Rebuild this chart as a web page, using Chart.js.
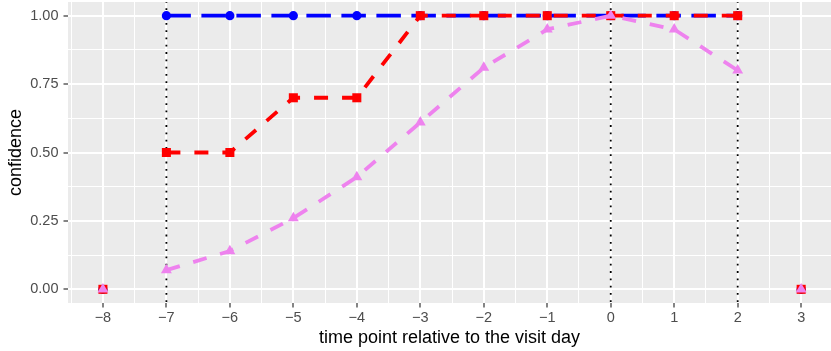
<!DOCTYPE html>
<html>
<head>
<meta charset="utf-8">
<script src="https://cdn.jsdelivr.net/npm/chart.js@4.4.1/dist/chart.umd.min.js"></script>
<style>
  html, body { margin: 0; padding: 0; background: #ffffff; }
  #wrap { width: 831px; height: 351px; }
</style>
</head>
<body>
<div id="wrap"><canvas id="c" width="831" height="351"></canvas></div>
<script>
// ---- data ----
const timePoints = [-7, -6, -5, -4, -3, -2, -1, 0, 1, 2];
const blueConfidence = [1, 1, 1, 1, 1, 1, 1, 1, 1, 1];
const redConfidence = [0.5, 0.5, 0.7, 0.7, 1, 1, 1, 1, 1, 1];
const violetConfidence = [0.07, 0.14, 0.26, 0.41, 0.61, 0.81, 0.95, 1.0, 0.95, 0.80];
const outsidePoints = [-8, 3];
const outsideConfidence = [0, 0];
const visitMarkers = [-7, 0, 2];
const xMajorTicks = [-8, -7, -6, -5, -4, -3, -2, -1, 0, 1, 2, 3];
const xMinorTicks = [-8.5, -7.5, -6.5, -5.5, -4.5, -3.5, -2.5, -1.5, -0.5, 0.5, 1.5, 2.5];
const yMajorTicks = [0, 0.25, 0.5, 0.75, 1];
const yMinorTicks = [0.125, 0.375, 0.625, 0.875];
const xTitle = 'time point relative to the visit day';
const yTitle = 'confidence';

const pts = (xs, ys) => xs.map((x, i) => ({ x: x, y: ys[i] }));

const panelBg = {
  id: 'panelBg',
  beforeDraw(chart) {
    const a = chart.chartArea, ctx = chart.ctx;
    ctx.save();
    ctx.fillStyle = '#EBEBEB';
    ctx.fillRect(a.left, a.top, a.right - a.left, a.bottom - a.top);
    ctx.restore();
  }
};

const isMajor = (v, list) => list.some(m => Math.abs(m - v) < 1e-9);
const noPad = s => { s.paddingTop = 0; s.paddingBottom = 0; s.paddingLeft = 0; s.paddingRight = 0; };

const datasets = [];
visitMarkers.forEach(v => {
  datasets.push({
    data: [{ x: v, y: -0.1 }, { x: v, y: 1.1 }],
    borderColor: '#000000', borderWidth: 1.8, borderDash: [1.8, 5.5],
    pointRadius: 0, order: 10, borderCapStyle: 'butt'
  });
});
datasets.push({
  data: pts(timePoints, blueConfidence),
  borderColor: '#0000FF', backgroundColor: '#0000FF',
  borderWidth: 3.8, borderDash: [24.5, 10.5], borderCapStyle: 'butt',
  pointStyle: 'circle', pointRadius: 4.6, pointBorderWidth: 0, order: 5
});
datasets.push({
  data: pts(timePoints, redConfidence),
  borderColor: '#FF0000', backgroundColor: '#FF0000',
  borderWidth: 3.8, borderDash: [14, 14], borderCapStyle: 'butt',
  pointStyle: 'rect', pointRadius: 6.4, pointBorderWidth: 0, order: 4
});
datasets.push({
  data: pts(timePoints, violetConfidence),
  borderColor: '#EE82EE', backgroundColor: '#EE82EE',
  borderWidth: 3.8, borderDash: [14, 14], borderCapStyle: 'butt',
  pointStyle: 'triangle', pointRadius: 6.3, pointBorderWidth: 0, order: 3
});
datasets.push({
  data: pts(outsidePoints, outsideConfidence),
  showLine: false, backgroundColor: '#0000FF', borderColor: '#0000FF',
  pointStyle: 'circle', pointRadius: 4.6, pointBorderWidth: 0, order: 2
});
datasets.push({
  data: pts(outsidePoints, outsideConfidence),
  showLine: false, backgroundColor: '#FF0000', borderColor: '#FF0000',
  pointStyle: 'rect', pointRadius: 6.4, pointBorderWidth: 0, order: 1
});
datasets.push({
  data: pts(outsidePoints, outsideConfidence),
  showLine: false, backgroundColor: '#EE82EE', borderColor: '#EE82EE',
  pointStyle: 'triangle', pointRadius: 6.3, pointBorderWidth: 0, order: 0
});

new Chart(document.getElementById('c'), {
  type: 'line',
  data: { datasets: datasets },
  plugins: [panelBg],
  options: {
    responsive: false,
    animation: false,
    devicePixelRatio: 1,
    layout: { autoPadding: false, padding: { top: 2, right: 0, left: 0, bottom: 0 } },
    plugins: { legend: { display: false }, tooltip: { enabled: false } },
    elements: { line: { tension: 0, fill: false } },
    scales: {
      x: {
        type: 'linear', min: -8.55, max: 3.47,
        afterBuildTicks: s => { s.ticks = xMajorTicks.concat(xMinorTicks).sort((a, b) => a - b).map(v => ({ value: v })); },
        afterFit: s => { s.height = 48; noPad(s); },
        border: { display: false },
        grid: {
          color: '#FFFFFF',
          lineWidth: c => isMajor(c.tick.value, xMajorTicks) ? 2 : 1,
          tickColor: c => isMajor(c.tick.value, xMajorTicks) ? '#333333' : 'rgba(0,0,0,0)',
          tickLength: 4.5, tickWidth: 1.2
        },
        ticks: {
          autoSkip: false, maxRotation: 0, padding: 2,
          color: '#4D4D4D', font: { family: 'Liberation Sans', size: 14.5 },
          callback: v => isMajor(v, xMajorTicks) ? (v < 0 ? '\u2212' + Math.abs(v) : String(v)) : ''
        },
        title: {
          display: true, text: xTitle, color: '#000000',
          font: { family: 'Liberation Sans', size: 18 },
          padding: { top: 0, bottom: 2 }
        }
      },
      y: {
        type: 'linear', min: -0.05, max: 1.05,
        afterBuildTicks: s => { s.ticks = yMajorTicks.concat(yMinorTicks).sort((a, b) => a - b).map(v => ({ value: v })); },
        afterFit: s => { s.width = 68; noPad(s); },
        border: { display: false },
        grid: {
          color: '#FFFFFF',
          lineWidth: c => isMajor(c.tick.value, yMajorTicks) ? 2 : 1,
          tickColor: c => isMajor(c.tick.value, yMajorTicks) ? '#333333' : 'rgba(0,0,0,0)',
          tickLength: 4.5, tickWidth: 1.2
        },
        ticks: {
          autoSkip: false, padding: 5,
          color: '#4D4D4D', font: { family: 'Liberation Sans', size: 14.5 },
          callback: v => isMajor(v, yMajorTicks) ? v.toFixed(2) : ''
        },
        title: {
          display: true, text: yTitle, color: '#000000',
          font: { family: 'Liberation Sans', size: 18 },
          padding: { top: 5, bottom: 0 }
        }
      }
    }
  }
});
</script>
</body>
</html>
